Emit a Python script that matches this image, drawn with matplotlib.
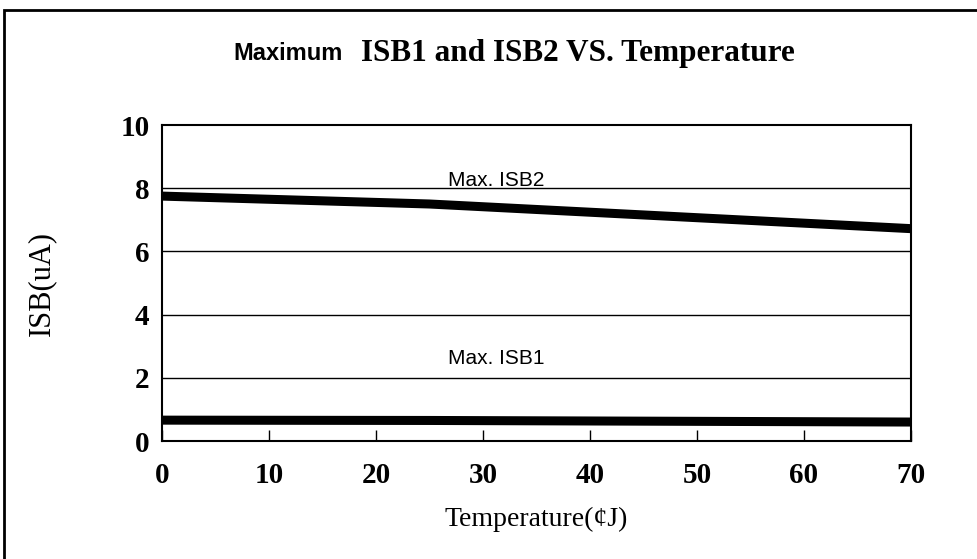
import matplotlib.pyplot as plt
from matplotlib.patches import Rectangle

# datos
temp = [0, 25, 70]
isb2 = [7.75, 7.5, 6.72]
isb1 = [0.66, 0.65, 0.6]

x_ticks = [0, 10, 20, 30, 40, 50, 60, 70]
y_ticks = [0, 2, 4, 6, 8, 10]

serif = "Liberation Serif"
sans = "Liberation Sans"

fig = plt.figure(figsize=(9.77, 5.59), dpi=100)
ax = fig.add_axes([162 / 977, 1 - 441 / 559, (911 - 162) / 977, (441 - 125) / 559])

# marco exterior
fig.patches.append(Rectangle((4 / 977, -0.1), 1.1, 1 - 10 / 559 + 0.1,
                             transform=fig.transFigure, fill=False,
                             edgecolor="black", linewidth=2, clip_on=False))

# rejilla horizontal
for y in [2, 4, 6, 8]:
    ax.axhline(y, color="black", linewidth=1, zorder=1)

ax.plot(temp, isb2, color="black", linewidth=6.5, solid_capstyle="butt", zorder=3)
ax.plot(temp, isb1, color="black", linewidth=6.5, solid_capstyle="butt", zorder=3)

ax.text(31.2, 8.08, "Max. ISB2", fontfamily=sans, fontsize=15, va="baseline", ha="center")
ax.text(31.2, 2.45, "Max. ISB1", fontfamily=sans, fontsize=15, va="baseline", ha="center")

ax.set_xlim(0, 70)
ax.set_ylim(0, 10)
ax.set_xticks(x_ticks)
ax.set_yticks(y_ticks)
ax.set_xticklabels([str(v) for v in x_ticks], fontfamily=serif, fontweight="bold", fontsize=21)
ax.set_yticklabels([str(v) for v in y_ticks], fontfamily=serif, fontweight="bold", fontsize=21)
ax.tick_params(axis="x", direction="in", length=8, width=1, pad=15)
ax.tick_params(axis="y", length=0, pad=9)
for s in ax.spines.values():
    s.set_linewidth(1.5)

ax.set_xlabel("Temperature(¢J)", fontfamily=serif, fontsize=20, labelpad=13)
ax.set_ylabel("ISB(uA)", fontfamily=serif, fontsize=22, labelpad=46)

# titulo en dos partes
fig.text(343 / 977, 1 - 53 / 559, "Maximum", fontfamily=sans, fontweight="bold",
         fontsize=17, ha="right", va="center")
fig.text(361 / 977, 1 - 53 / 559, "ISB1 and ISB2 VS. Temperature", fontfamily=serif,
         fontweight="bold", fontsize=22.5, ha="left", va="center")

plt.savefig("out.png")
